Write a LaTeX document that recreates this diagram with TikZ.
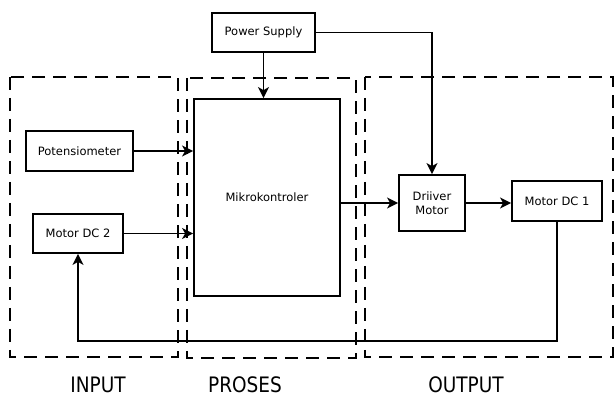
\documentclass[tikz,border=0pt]{standalone}
\usepackage{fontspec}
\setmainfont{DejaVu Sans}
\usetikzlibrary{arrows.meta}
\begin{document}
\begin{tikzpicture}[x=1pt,y=-1pt,
  blk/.style={draw,line width=1.8pt,inner sep=0pt,align=center,font=\fontsize{11.5}{14}\selectfont},
  region/.style={draw,line width=1.8pt,dash pattern=on 13pt off 8pt},
  conn/.style={line width=1.8pt},
  arr/.style={conn,-{Stealth[length=11pt,width=11pt,inset=3pt]}},
  lbl/.style={font=\fontsize{18.5}{22}\selectfont,inner sep=0pt}]
\useasboundingbox (0,0) rectangle (614,398);
% regions
\draw[region] (10,77) rectangle (178,357);
\draw[region] (187,78) rectangle (356,358);
\draw[region] (365,77) rectangle (613,357);
% blocks
\node[blk,minimum width=103pt,minimum height=39pt] (ps) at (263.5,32.5) {Power Supply};
\node[blk,minimum width=146pt,minimum height=197pt] (mk) at (267,197.5) {Mikrokontroler};
\node[blk,minimum width=107pt,minimum height=40pt] (pot) at (79.5,151) {Potensiometer};
\node[blk,minimum width=90pt,minimum height=39pt] (m2) at (78,233.5) {Motor DC 2};
\node[blk,minimum width=66pt,minimum height=56pt] (drv) at (432,203) {Driiver\\Motor};
\node[blk,minimum width=90pt,minimum height=40pt] (m1) at (557,201) {Motor DC 1};
% labels
\node[lbl] (lin) at (98,385) {\scalebox{1}[1.15]{INPUT}};
\node[lbl] (lpr) at (245,385) {\scalebox{1}[1.15]{PROSES}};
\node[lbl] (lout) at (466,385) {\scalebox{1}[1.15]{OUTPUT}};
% connectors
\coordinate (fb) at (300,341);
\draw[arr] (ps.south) -- (ps.south |- mk.north);
\draw[arr] (ps.east) -| (drv.north);
\draw[arr] (pot.east) -- (pot.east -| mk.west);
\draw[arr] (m2.east) -- (m2.east -| mk.west);
\draw[arr] (mk.east |- drv.west) -- (drv.west);
\draw[arr] (drv.east) -- (drv.east -| m1.west);
\draw[arr] (m1.south) |- (fb) -| (m2.south);
\end{tikzpicture}
\end{document}
